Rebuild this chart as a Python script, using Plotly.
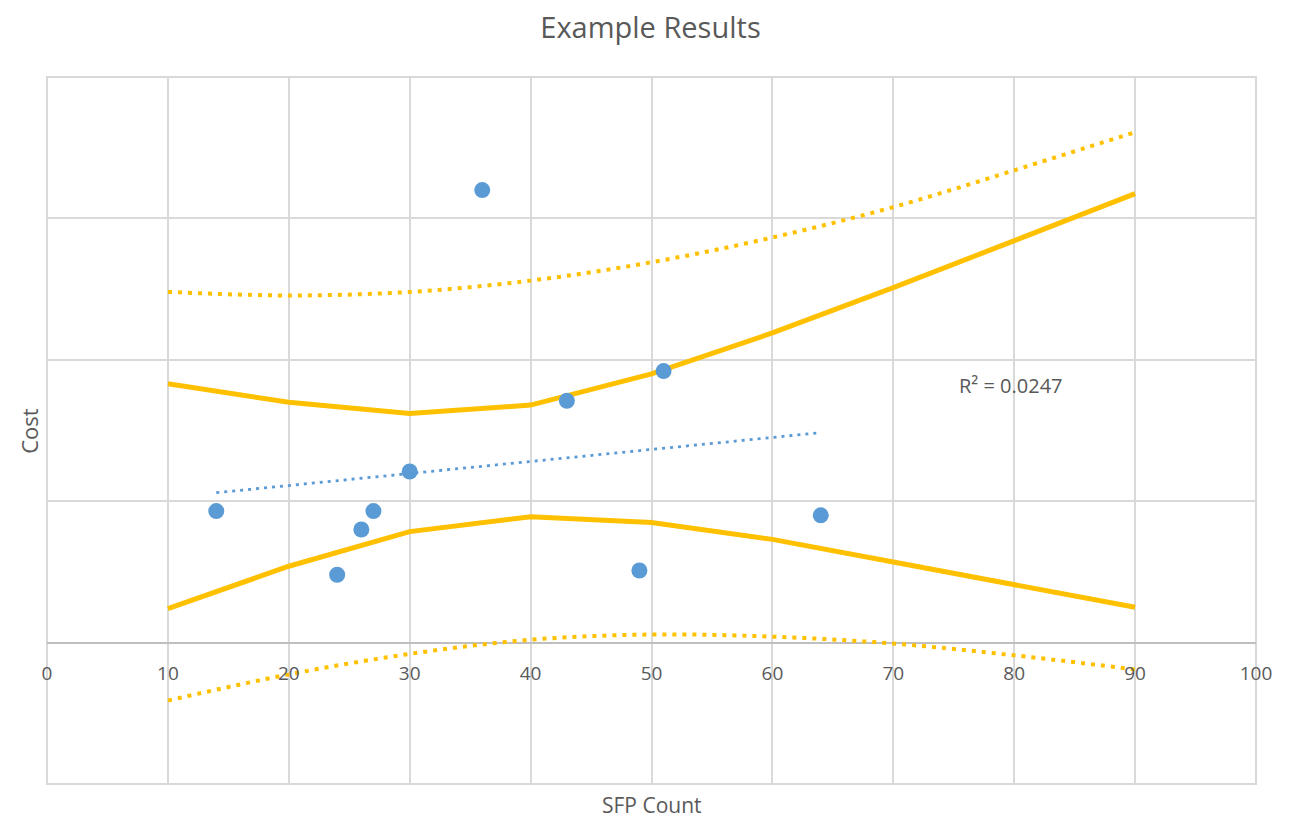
import plotly.graph_objects as go

# Data
pts_x = [14, 24, 26, 27, 30, 36, 43, 49, 51, 64]
pts_y = [0.93, 0.48, 0.80, 0.93, 1.21, 3.20, 1.71, 0.51, 1.92, 0.90]

trend_x = [14, 64]
trend_y = [1.06, 1.485]

band_x = [10, 20, 30, 40, 50, 60, 70, 80, 90]
upper_conf = [1.83, 1.70, 1.62, 1.68, 1.90, 2.19, 2.51, 2.84, 3.175]
lower_conf = [0.24, 0.54, 0.785, 0.89, 0.85, 0.73, 0.57, 0.41, 0.25]
upper_pred = [2.48, 2.455, 2.48, 2.56, 2.69, 2.865, 3.08, 3.34, 3.61]
lower_pred = [-0.41, -0.225, -0.08, 0.02, 0.057, 0.042, -0.007, -0.09, -0.19]

r2_text = "R² = 0.0247"
x_ticks = [0, 10, 20, 30, 40, 50, 60, 70, 80, 90, 100]

ORANGE = "#FFC000"
BLUE = "#5B9BD5"
FONT = "Open Sans"
TXT = "#595959"
GRID = "#D9D9D9"

fig = go.Figure()
fig.add_trace(go.Scatter(x=band_x, y=upper_pred, mode="lines", line=dict(color=ORANGE, width=4, dash="4px,6px", shape="spline"), hoverinfo="skip"))
fig.add_trace(go.Scatter(x=band_x, y=lower_pred, mode="lines", line=dict(color=ORANGE, width=4, dash="4px,6px", shape="spline"), hoverinfo="skip"))
fig.add_trace(go.Scatter(x=band_x, y=upper_conf, mode="lines", line=dict(color=ORANGE, width=5)))
fig.add_trace(go.Scatter(x=band_x, y=lower_conf, mode="lines", line=dict(color=ORANGE, width=5)))
fig.add_trace(go.Scatter(x=trend_x, y=trend_y, mode="lines", line=dict(color=BLUE, width=2.8, dash="3px,5px")))
fig.add_trace(go.Scatter(x=pts_x, y=pts_y, mode="markers", marker=dict(color=BLUE, size=16, line=dict(width=0))))

# plot-area frame (gridlines at range edges)
fig.add_shape(type="rect", xref="paper", yref="paper", x0=0, x1=1, y0=0, y1=1,
              line=dict(color=GRID, width=2), layer="below")

fig.add_annotation(x=79.7, y=1.82, xref="x", yref="y", text=r2_text, showarrow=False,
                   font=dict(family=FONT, size=20, color=TXT))
fig.add_annotation(x=0.5, y=-0.029, xref="paper", yref="paper", xanchor="center", yanchor="middle",
                   text="SFP Count", showarrow=False,
                   font=dict(family=FONT, size=21, color=TXT))
fig.add_annotation(x=-0.0155, y=0.5, xref="paper", yref="paper", xanchor="center", yanchor="middle",
                   text="Cost", textangle=-90, showarrow=False,
                   font=dict(family=FONT, size=22, color=TXT))

fig.update_layout(
    width=1285, height=812,
    margin=dict(l=39, r=37, t=69, b=36),
    paper_bgcolor="white", plot_bgcolor="white",
    showlegend=False,
    title=dict(text="Example Results", x=0.5, xanchor="center", y=1 - 20 / 812, yanchor="middle",
               font=dict(family=FONT, size=29, color=TXT)),
    xaxis=dict(range=[0, 100], tickvals=x_ticks, showgrid=True, gridcolor=GRID, gridwidth=2,
               zeroline=False, showline=False, anchor="free", position=0.2,
               ticks="outside", ticklen=14, tickcolor="rgba(0,0,0,0)",
               tickfont=dict(family=FONT, size=19, color=TXT)),
    yaxis=dict(range=[-1, 4], dtick=1, showgrid=True, gridcolor=GRID, gridwidth=2,
               zeroline=True, zerolinecolor="#BFBFBF", zerolinewidth=2,
               showticklabels=False, showline=False),
)

fig.write_html("out.html")
